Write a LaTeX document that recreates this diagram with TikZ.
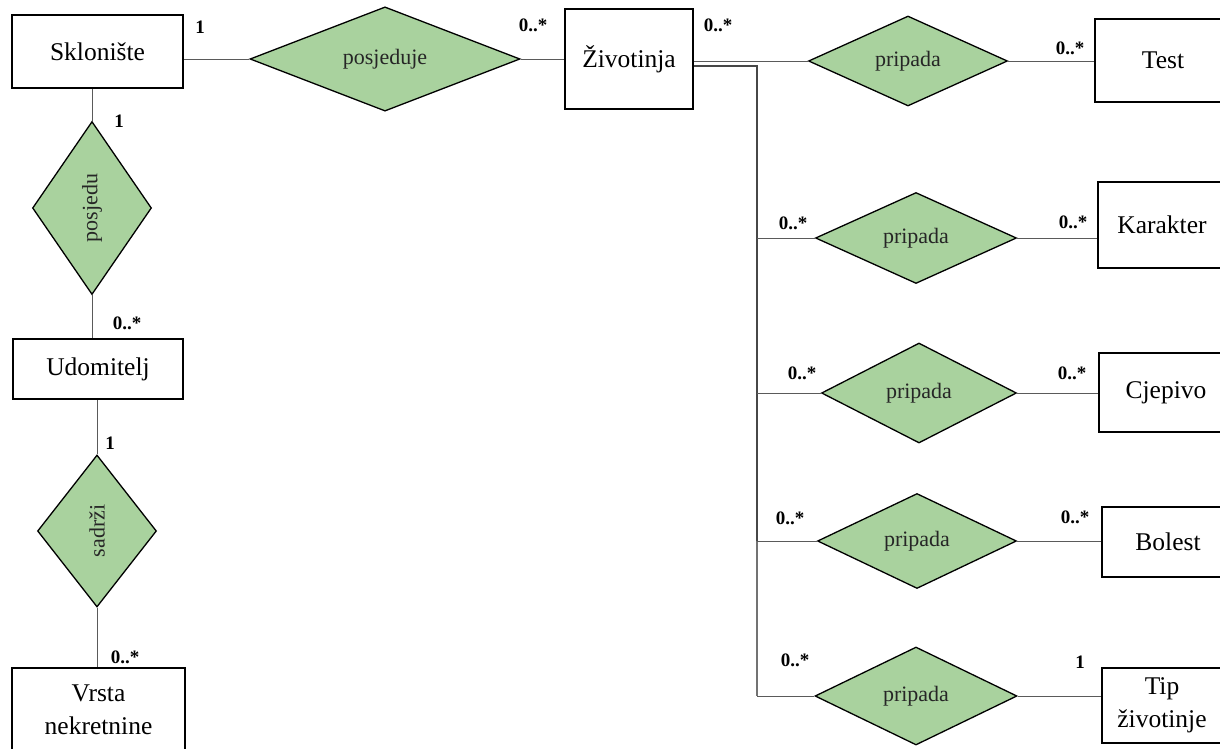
\documentclass[tikz,border=0pt]{standalone}
\usepackage{fontspec}
\usepackage{graphicx}
\setmainfont{Liberation Serif}
\usetikzlibrary{shapes.geometric,calc}
\definecolor{relgreen}{RGB}{169,210,158}
\definecolor{linegray}{RGB}{90,90,90}
\begin{document}
\begin{tikzpicture}[x=1pt,y=-1pt,
  entity/.style={draw=black,line width=1.6pt,fill=white,rectangle,inner sep=0pt,
    font=\fontsize{25.5}{33}\selectfont,align=center},
  rel/.style={draw=black,line width=1.3pt,fill=relgreen,diamond,inner sep=0pt,
    font=\fontsize{22}{26}\selectfont,text=black!85},
  conn/.style={draw=linegray,line width=0.9pt},
  bus/.style={draw=black!72,line width=1.8pt},
  buslow/.style={draw=black!55,line width=1.4pt},
  card/.style={font=\fontsize{19}{22}\selectfont\bfseries,inner sep=0pt}]
\clip[use as bounding box] (0,0) rectangle (1220,749);

% entities and relationships
\node[entity,minimum width=171,minimum height=73] (sk) at (97.5,51.5) {Sklonište};
\node[rel,minimum width=270,minimum height=88] (posjeduje) at (385,59) {posjeduje};
\node[entity,minimum width=128,minimum height=100] (ziv) at (629,59) {Životinja};
\node[rel,minimum width=199,minimum height=90] (pT) at (908,61) {pripada};
\node[entity,minimum width=136,minimum height=83] (test) at (1163,60.5) {Test};
\node[rel,minimum width=201,minimum height=91] (pK) at (916,238) {pripada};
\node[entity,minimum width=128,minimum height=86] (kar) at (1162,225) {Karakter};
\node[rel,minimum width=195,minimum height=100] (pC) at (919,393) {pripada};
\node[entity,minimum width=134,minimum height=79] (cje) at (1166,392.5) {Cjepivo};
\node[rel,minimum width=199,minimum height=95] (pB) at (917,541) {pripada};
\node[entity,minimum width=132,minimum height=70] (bol) at (1168,542) {Bolest};
\node[rel,minimum width=202,minimum height=98] (pTip) at (916,696) {pripada};
\node[entity,minimum width=120,minimum height=75] (tip) at (1162,705.5) {Tip\\životinje};
\node[rel,minimum width=119,minimum height=173] (posjedu) at (92,208) {\rotatebox{90}{posjedu}};
\node[entity,minimum width=170,minimum height=60] (udo) at (98,369) {Udomitelj};
\node[rel,minimum width=119,minimum height=152] (sadrzi) at (97,531) {\rotatebox{90}{sadrži}};
\node[entity,minimum width=173,minimum height=84] (vrsta) at (98.5,710) {Vrsta\\nekretnine};

% connectors
\draw[conn] (posjeduje.west) -- (posjeduje.west -| sk.east);
\draw[conn] (posjeduje.east) -- (posjeduje.east -| ziv.west);
\draw[conn] (pT.west) -- (pT.west -| ziv.east);
\draw[conn] (pT.east) -- (pT.east -| test.west);

\coordinate (bt) at (757,66);
\draw[bus] (bt -| ziv.east) -- (bt) -- (bt |- pB.west);
\draw[buslow] (bt |- pB.west) -- (bt |- pTip.west);
\draw[conn] (bt |- pK.west) -- (pK.west);
\draw[conn] (bt |- pC.west) -- (pC.west);
\draw[conn] (bt |- pB.west) -- (pB.west);
\draw[conn] (bt |- pTip.west) -- (pTip.west);

\draw[conn] (pK.east) -- (pK.east -| kar.west);
\draw[conn] (pC.east) -- (pC.east -| cje.west);
\draw[conn] (pB.east) -- (pB.east -| bol.west);
\draw[conn] (pTip.east) -- (pTip.east -| tip.west);

\draw[conn] (posjedu.north) -- (posjedu.north |- sk.south);
\draw[conn] (posjedu.south) -- (posjedu.south |- udo.north);
\draw[conn] (sadrzi.north) -- (sadrzi.north |- udo.south);
\draw[conn] (sadrzi.south) -- (sadrzi.south |- vrsta.north);

% cardinalities
\node[card] (c1) at (200,27) {1};
\node[card] (c2) at (533,25) {0..*};
\node[card] (c3) at (718,25) {0..*};
\node[card] (c4) at (1070,48) {0..*};
\node[card] (c5) at (793,223) {0..*};
\node[card] (c6) at (1073,222) {0..*};
\node[card] (c7) at (802,373) {0..*};
\node[card] (c8) at (1072,373) {0..*};
\node[card] (c9) at (790,518) {0..*};
\node[card] (c10) at (1075,517) {0..*};
\node[card] (c11) at (795,660) {0..*};
\node[card] (c12) at (1080,662) {1};
\node[card] (c13) at (119,121) {1};
\node[card] (c14) at (127,323) {0..*};
\node[card] (c15) at (110,443) {1};
\node[card] (c16) at (125,657) {0..*};
\end{tikzpicture}
\end{document}
